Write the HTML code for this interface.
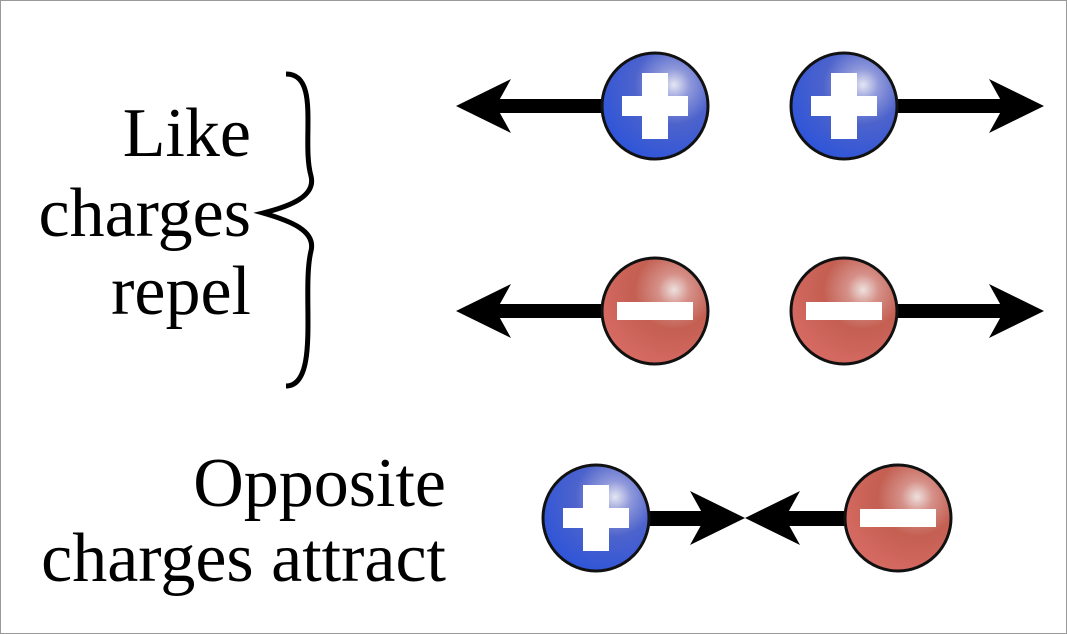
<!DOCTYPE html>
<html><head><style>
html,body{margin:0;padding:0;background:#fff}
.w{position:relative;width:1065px;height:632px;border:1px solid #999;overflow:hidden}
svg{position:absolute;left:0;top:0}
</style></head><body><div class="w">
<svg width="1067" height="634" viewBox="0 0 1067 634">
<defs>
<radialGradient id="b" cx="0.68" cy="0.3" r="0.75">
<stop offset="0" stop-color="#e4e6f2"/><stop offset="0.2" stop-color="#8f98da"/><stop offset="0.5" stop-color="#4d63cc"/><stop offset="1" stop-color="#2f55d8"/>
</radialGradient>
<radialGradient id="r" cx="0.68" cy="0.3" r="0.75">
<stop offset="0" stop-color="#eee0de"/><stop offset="0.2" stop-color="#d59088"/><stop offset="0.5" stop-color="#c45f52"/><stop offset="1" stop-color="#d66a62"/>
</radialGradient>
<g id="P"><circle r="53" fill="url(#b)" stroke="#111" stroke-width="3"/><rect x="-33" y="-10" width="66" height="20" fill="#fff"/><rect x="-13" y="-33" width="26" height="66" fill="#fff"/></g>
<g id="M"><circle r="53" fill="url(#r)" stroke="#111" stroke-width="3"/><rect x="-38" y="-9" width="76" height="18" fill="#fff"/></g>
<g id="AL"><path d="M0,0 L55,-27 L40,0 L55,27 Z" fill="#000"/></g>
</defs>
<g font-family="Liberation Serif, serif" font-size="70" fill="#000" text-anchor="end">
<text x="250" y="155">Like</text>
<text x="250" y="235">charges</text>
<text x="250" y="313">repel</text>
<text x="445" y="505">Opposite</text>
<text x="445" y="580">charges attract</text>
</g>
<path d="M285,73 C320,73 300,140 310,175 C315,195 290,205 262,212 C290,220 315,230 310,250 C300,290 320,385 285,385" fill="none" stroke="#000" stroke-width="5"/>
<rect x="490" y="98" width="120" height="14" fill="#000"/>
<use href="#AL" x="455" y="105"/>
<rect x="890" y="98" width="120" height="14" fill="#000"/>
<use href="#AL" transform="translate(1043,105) scale(-1,1)"/>
<use href="#P" x="654" y="105"/>
<use href="#P" x="843" y="105"/>
<rect x="490" y="303" width="120" height="14" fill="#000"/>
<use href="#AL" x="455" y="310"/>
<rect x="890" y="303" width="120" height="14" fill="#000"/>
<use href="#AL" transform="translate(1043,310) scale(-1,1)"/>
<use href="#M" x="654" y="310"/>
<use href="#M" x="843" y="310"/>
<rect x="640" y="510" width="75" height="15" fill="#000"/>
<rect x="775" y="510" width="75" height="15" fill="#000"/>
<use href="#AL" transform="translate(744,517) scale(-1,1)"/>
<use href="#AL" x="744" y="517"/>
<use href="#P" x="595" y="517"/>
<use href="#M" x="897" y="517"/>
</svg>
</div></body></html>
